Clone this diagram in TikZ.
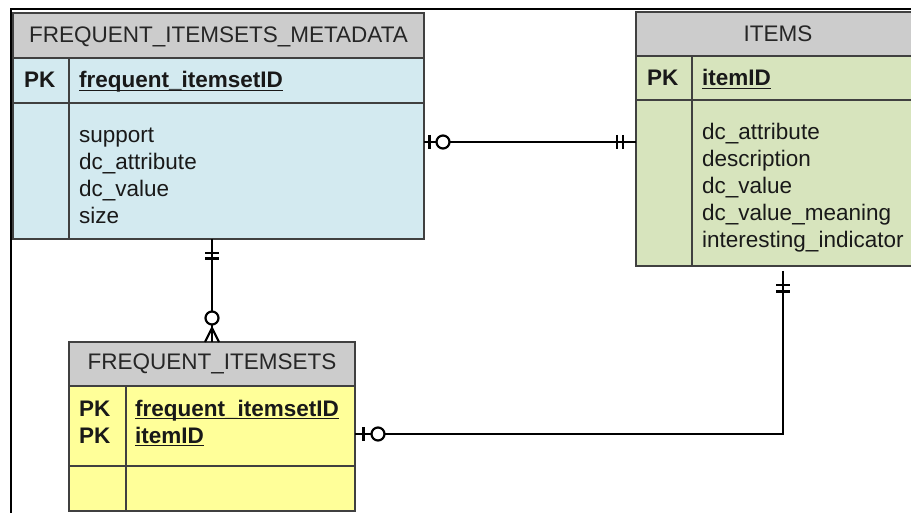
\documentclass[tikz,border=0pt]{standalone}
\usepackage{fontspec}
\setmainfont{Liberation Sans}
\usetikzlibrary{calc}

\definecolor{hdrgray}{RGB}{204,204,204}
\definecolor{metablue}{RGB}{211,234,240}
\definecolor{itemgreen}{RGB}{215,228,189}
\definecolor{setyellow}{RGB}{255,255,153}
\definecolor{edgegray}{RGB}{64,64,64}

% underlined key field name
\newcommand\keyul[1]{\setbox0\hbox{#1}\rlap{\rule[-3.2pt]{\wd0}{1.6pt}}\box0}

\begin{document}
\begin{tikzpicture}[x=1pt,y=-1pt,
  frameline/.style={line width=2pt, black},
  tbl/.style={draw=edgegray, line width=1.4pt, rectangle, inner sep=0pt, outer sep=0pt, anchor=north west},
  head/.style={tbl, fill=hdrgray},
  rowrule/.style={draw=edgegray, line width=1.4pt},
  fld/.style={inner sep=0pt, anchor=base west, font=\fontsize{22.5}{27}\selectfont, text=black!90},
  keyfld/.style={fld, font=\fontsize{22.5}{27}\selectfont\bfseries},
  title/.style={inner sep=0pt, anchor=base, font=\fontsize{22.5}{27}\selectfont, text=black!85},
  link/.style={line width=2.2pt, black},
  ring/.style={line width=2.2pt, draw=black, fill=white},
]
\useasboundingbox (0,0) rectangle (911,513);
\begin{scope}
\clip (0,0) rectangle (911,513);

% outer frame
\draw[frameline] (911,9) -- (11,9) -- (11,513);

% ---------- FREQUENT_ITEMSETS_METADATA ----------
\node[tbl, fill=metablue, minimum width=411pt, minimum height=226pt] (meta) at (13,13) {};
\node[head, minimum width=411pt, minimum height=45pt] (metahead) at (13,13) {};
\draw[rowrule] (meta.west |- 0,103) -- (meta.east |- 0,103);
\draw[rowrule] (metahead.south -| 69,0) -- (meta.south -| 69,0);
\node[title] (metatitle) at (218.5,42.5) {FREQUENT\_ITEMSETS\_METADATA};
\node[keyfld] (metapk) at (24,88) {PK};
\node[keyfld] (metakey) at (79,88) {\keyul{frequent\_itemsetID}};
\node[fld] (m1) at (79,142.5) {support};
\node[fld] (m2) at (79,169.5) {dc\_attribute};
\node[fld] (m3) at (79,196.5) {dc\_value};
\node[fld] (m4) at (79,223.5) {size};

% ---------- ITEMS ----------
\node[tbl, fill=itemgreen, minimum width=285pt, minimum height=254pt] (items) at (636,12) {};
\node[head, minimum width=285pt, minimum height=44pt] (itemshead) at (636,12) {};
\draw[rowrule] (items.west |- 0,100) -- (items.east |- 0,100);
\draw[rowrule] (itemshead.south -| 692,0) -- (items.south -| 692,0);
\node[title] (itemstitle) at (778,41.7) {ITEMS};
\node[keyfld] (itemspk) at (647,86) {PK};
\node[keyfld] (itemskey) at (702,86) {\keyul{itemID}};
\node[fld] (i1) at (702,140) {dc\_attribute};
\node[fld] (i2) at (702,167) {description};
\node[fld] (i3) at (702,194) {dc\_value};
\node[fld] (i4) at (702,221) {dc\_value\_meaning};
\node[fld] (i5) at (702,248) {interesting\_indicator};

% ---------- FREQUENT_ITEMSETS ----------
\node[tbl, fill=setyellow, minimum width=286pt, minimum height=169pt] (fi) at (69,342) {};
\node[head, minimum width=286pt, minimum height=44pt] (fihead) at (69,342) {};
\draw[rowrule] (fi.west |- 0,466) -- (fi.east |- 0,466);
\draw[rowrule] (fihead.south -| 126,0) -- (fi.south -| 126,0);
\node[title] (fititle) at (212,370) {FREQUENT\_ITEMSETS};
\node[keyfld] (fipk1) at (79,416) {PK};
\node[keyfld] (fipk2) at (79,443) {PK};
\node[keyfld] (fikey1) at (135,416) {\keyul{frequent\_itemsetID}};
\node[keyfld] (fikey2) at (135,443) {\keyul{itemID}};

% ---------- relationships ----------
% metadata (zero or one) -- items (exactly one)
\coordinate (c1a) at (meta.east |- 0,142);
\coordinate (c1b) at (items.west |- 0,142);
\draw[link] (c1a) -- (c1b);
\draw[link] ($(c1a)+(5.5,-7)$) -- ++(0,14);
\draw[ring] ($(c1a)+(19,0)$) circle[radius=6.5pt];
\draw[link] ($(c1b)+(-19,-7)$) -- ++(0,14);
\draw[link] ($(c1b)+(-13,-7)$) -- ++(0,14);

% metadata (exactly one) -- frequent itemsets (zero or many)
\coordinate (c2a) at (meta.south -| 212,0);
\coordinate (c2b) at (fi.north -| 212,0);
\draw[link] (c2a) -- (c2b);
\draw[link] ($(c2a)+(-7,14)$) -- ++(14,0);
\draw[link] ($(c2a)+(-7,19.5)$) -- ++(14,0);
\draw[link] ($(c2b)+(-7,0)$) -- ($(c2b)+(0,-14)$) -- ($(c2b)+(7,0)$);
\draw[ring] ($(c2b)+(0,-24)$) circle[radius=6.5pt];

% items (exactly one) -- frequent itemsets (zero or one)
\coordinate (c3a) at (items.south -| 783,0);
\coordinate (c3b) at (fi.east |- 0,434);
\draw[link, shorten <=5pt] (c3a) |- (c3b);
\draw[link] ($(c3a)+(-7,19)$) -- ++(14,0);
\draw[link] ($(c3a)+(-7,25.5)$) -- ++(14,0);
\draw[link] ($(c3b)+(8.5,-7)$) -- ++(0,14);
\draw[ring] ($(c3b)+(23,0)$) circle[radius=6.5pt];
\end{scope}
\end{tikzpicture}
\end{document}
